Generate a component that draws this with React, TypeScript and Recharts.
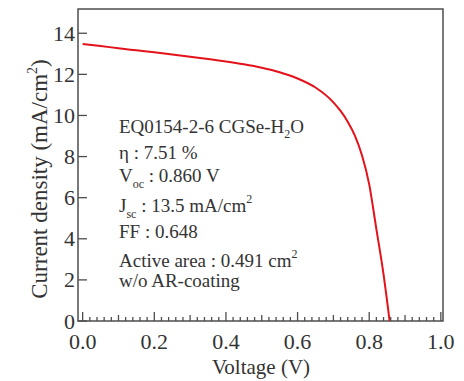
import React from 'react';
import { LineChart, Line, XAxis, YAxis, ReferenceArea } from 'recharts';

// Voltage (V) and current density (mA/cm^2)
const voltage = [0, 0.05, 0.1, 0.15, 0.2, 0.25, 0.3, 0.35, 0.4, 0.45, 0.5, 0.55, 0.6, 0.65, 0.7, 0.72, 0.74, 0.76, 0.78, 0.8, 0.82, 0.84, 0.857];
const current = [13.48, 13.38, 13.27, 13.17, 13.07, 12.97, 12.86, 12.75, 12.63, 12.49, 12.32, 12.1, 11.8, 11.36, 10.64, 10.22, 9.7, 9.02, 8.05, 6.65, 4.47, 2.27, 0];

const xLabelTicks = [0, 0.2, 0.4, 0.6, 0.8, 1.0];
const yTicks = [0, 2, 4, 6, 8, 10, 12, 14];
const xDomain: [number, number] = [-0.013, 1.006];
const yDomain: [number, number] = [0, 15.18];

const xAllTicks = Array.from({ length: 51 }, (_, i) => Math.round(i * 2) / 100);

const data = voltage.map((v, i) => ({ v, j: current[i] }));

const FONT = '"Liberation Serif", "Times New Roman", serif';
const AXIS = '#4d4d4d';
const TEXT = '#333333';

const XTick = (props: any) => {
  const { x, y, payload } = props;
  const val = payload.value as number;
  const idx = Math.round(val * 50);
  const major = idx % 10 === 0;
  const mid = idx % 5 === 0;
  const len = major ? 9 : mid ? 6 : 4;
  return (
    <g>
      <line x1={x} x2={x} y1={y} y2={y - len} stroke={AXIS} strokeWidth={1.3} />
      {major && (
        <text x={x} y={y + 28} textAnchor="middle" fontFamily={FONT} fontSize={22} fill={TEXT}>
          {xLabelTicks.includes(Math.round(val * 10) / 10) ? val.toFixed(1) : ''}
        </text>
      )}
    </g>
  );
};

const YTick = (props: any) => {
  const { x, y, payload } = props;
  return (
    <g>
      <line x1={x} x2={x + 9} y1={y} y2={y} stroke={AXIS} strokeWidth={1.3} />
      <text x={x - 3} y={y + 7.5} textAnchor="end" fontFamily={FONT} fontSize={22} fill={TEXT}>
        {payload.value}
      </text>
    </g>
  );
};

export default function App() {
  return (
    <div style={{ position: 'absolute', left: 0, top: 0, width: 464, height: 381, background: '#fff' }}>
      <LineChart width={464} height={381} data={data} margin={{ top: 9, right: 21, bottom: 0, left: 0 }}>
        <XAxis
          dataKey="v"
          type="number"
          domain={xDomain}
          ticks={xAllTicks}
          interval={0}
          allowDataOverflow
          axisLine={false}
          tickLine={false}
          tickSize={0}
          tickMargin={0}
          height={60}
          tick={<XTick />}
        />
        <YAxis
          type="number"
          domain={yDomain}
          ticks={yTicks}
          interval={0}
          allowDataOverflow
          axisLine={false}
          tickLine={false}
          tickSize={0}
          tickMargin={0}
          width={78}
          tick={<YTick />}
        />
        <ReferenceArea
          x1={xDomain[0]}
          x2={xDomain[1]}
          y1={yDomain[0]}
          y2={yDomain[1]}
          fill="none"
          fillOpacity={0}
          stroke={AXIS}
          strokeWidth={1.5}
          ifOverflow="extendDomain"
        />
        <Line
          type="monotone"
          dataKey="j"
          stroke="#e3121b"
          strokeWidth={2}
          dot={false}
          isAnimationActive={false}
        />
      </LineChart>
      <svg
        width={464}
        height={381}
        style={{ position: 'absolute', left: 0, top: 0, pointerEvents: 'none' }}
        fontFamily={FONT}
        fill={TEXT}
      >
        <text transform="rotate(-90, 47, 179)" x={47} y={179} textAnchor="middle" fontSize={23}>
          Current density (mA/cm<tspan fontSize={14} dy={-10}>2</tspan><tspan dy={10}>)</tspan>
        </text>
        <text x={261} y={374} textAnchor="middle" fontSize={21}>Voltage (V)</text>
        <g fontSize={19}>
          <text x={119} y={133}>
            EQ0154-2-6 CGSe-H<tspan fontSize={12} dy={5}>2</tspan><tspan dy={-5}>O</tspan>
          </text>
          <text x={119} y={159}>η : 7.51 %</text>
          <text x={119} y={182}>
            V<tspan fontSize={12} dy={6}>oc</tspan><tspan dy={-6}> : 0.860 V</tspan>
          </text>
          <text x={119} y={212}>
            J<tspan fontSize={12} dy={6}>sc</tspan><tspan dy={-6}> : 13.5 mA/cm</tspan><tspan fontSize={12} dy={-9}>2</tspan>
          </text>
          <text x={119} y={238}>FF : 0.648</text>
          <text x={119} y={267}>
            Active area : 0.491 cm<tspan fontSize={12} dy={-9}>2</tspan>
          </text>
          <text x={119} y={287}>w/o AR-coating</text>
        </g>
      </svg>
    </div>
  );
}
